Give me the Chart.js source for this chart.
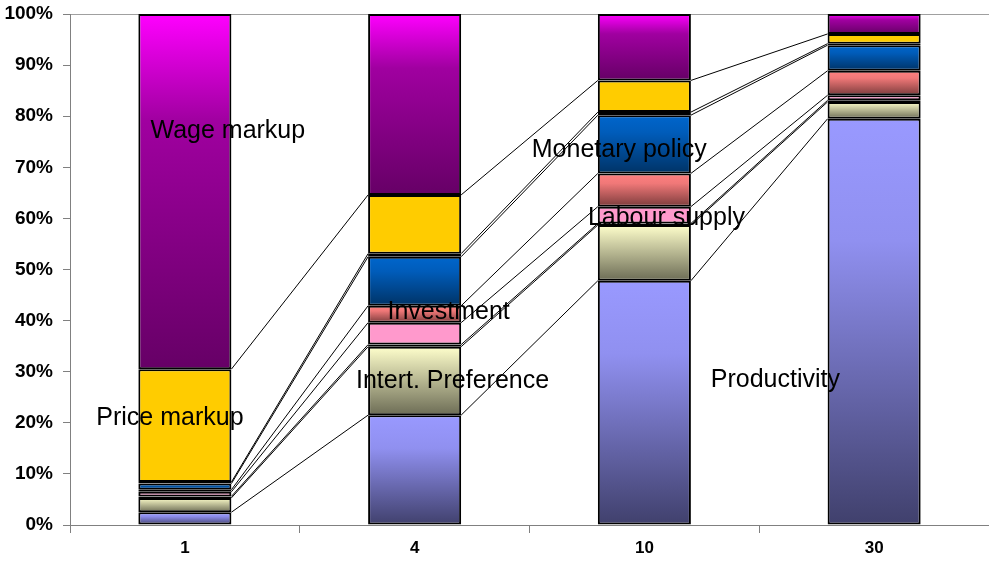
<!DOCTYPE html>
<html>
<head>
<meta charset="utf-8">
<title>Shock decomposition by horizon</title>
<script src="https://cdn.jsdelivr.net/npm/chart.js@4.4.1/dist/chart.umd.min.js"></script>
<style>
  html, body { margin: 0; padding: 0; background: #ffffff; }
  #wrap { width: 989px; height: 565px; position: relative; }
</style>
</head>
<body>
<div id="wrap"><canvas id="chart"></canvas></div>
<script>
// Forecast horizons (quarters)
const horizons = ['1', '4', '10', '30'];

// Share of forecast-error variance (%) per shock, stacked bottom to top
const productivity   = [2.5, 21.5, 47.8, 79.5];
const intertPref     = [2.8, 13.4, 10.9, 3.3];
const otherA         = [0.3, 0.4, 0.3, 0.3];
const labourSupply   = [0.9, 4.3, 3.3, 1.0];
const investment     = [0.4, 3.3, 6.5, 4.8];
const monetaryPolicy = [1.2, 9.6, 11.4, 5.0];
const otherB         = [0.3, 0.6, 0.6, 0.3];
const priceMarkup    = [22.1, 11.5, 6.2, 1.9];
const wageMarkup     = [69.5, 35.4, 13.0, 3.9];

// y-axis ticks
const yTicks = [0, 10, 20, 30, 40, 50, 60, 70, 80, 90, 100];

// In-plot labels: text, category position (fractional index), value
const labelTexts = ['Wage markup', 'Price markup', 'Intert. Preference', 'Investment',
                    'Monetary policy', 'Labour supply', 'Productivity'];
const labelCat   = [0.187, -0.065, 1.165, 1.148, 1.891, 2.096, 2.570];
const labelVal   = [77.1, 20.9, 28.2, 41.7, 73.4, 60.1, 28.4];

const seriesList = [
  { name: 'Productivity',       values: productivity,   stops: [[0, '#9999FF'], [0.3, '#9090F0'], [1, '#40406C']] },
  { name: 'Intert. Preference', values: intertPref,     stops: [[0, '#FFFFCC'], [1, '#6C6C55']] },
  { name: 'Other 1',            values: otherA,         stops: [[0, '#A0A0A0'], [1, '#A0A0A0']] },
  { name: 'Labour supply',      values: labourSupply,   stops: [[0, '#FF99CC'], [1, '#FF99CC']] },
  { name: 'Investment',         values: investment,     stops: [[0, '#FF8080'], [0.3, '#F07878'], [1, '#7C3C3C']] },
  { name: 'Monetary policy',    values: monetaryPolicy, stops: [[0, '#0066CC'], [0.3, '#005CBA'], [1, '#003366']] },
  { name: 'Other 2',            values: otherB,         stops: [[0, '#909090'], [1, '#909090']] },
  { name: 'Price markup',       values: priceMarkup,    stops: [[0, '#FFCC00'], [1, '#FFCC00']] },
  { name: 'Wage markup',        values: wageMarkup,     stops: [[0, '#FF00FF'], [0.3, '#A000A0'], [1, '#660066']] }
];

Chart.defaults.font.family = "'Liberation Sans', Arial, sans-serif";
Chart.defaults.color = '#000000';

// Vertical gradient spanning exactly one stacked segment
function segmentFill(ctx, stops) {
  const chart = ctx.chart;
  if (!chart.chartArea || ctx.dataIndex === undefined || !chart.scales.y) return stops[0][1];
  const ds = ctx.datasetIndex, i = ctx.dataIndex;
  let base = 0;
  for (let k = 0; k < ds; k++) base += seriesList[k].values[i];
  const top = base + seriesList[ds].values[i];
  const ys = chart.scales.y;
  const y0 = ys.getPixelForValue(top);
  let y1 = ys.getPixelForValue(base);
  if (Math.abs(y1 - y0) < 1) y1 = y0 + 1;
  const g = chart.ctx.createLinearGradient(0, y0, 0, y1);
  stops.forEach(s => g.addColorStop(s[0], s[1]));
  return g;
}

// Thin connector lines joining the top of each segment across neighbouring bars
const seriesLines = {
  id: 'seriesLines',
  afterDatasetsDraw(chart) {
    const c = chart.ctx;
    c.save();
    c.strokeStyle = '#000000';
    c.lineWidth = 1;
    chart.data.datasets.forEach((d, di) => {
      if (di === chart.data.datasets.length - 1) return;
      const els = chart.getDatasetMeta(di).data;
      for (let i = 0; i < els.length - 1; i++) {
        const a = els[i], b = els[i + 1];
        c.beginPath();
        c.moveTo(a.x + a.width / 2, a.y);
        c.lineTo(b.x - b.width / 2, b.y);
        c.stroke();
      }
    });
    c.restore();
  }
};

// Series names written inside the plot
const plotLabels = {
  id: 'plotLabels',
  afterDraw(chart) {
    const c = chart.ctx;
    const xs = chart.scales.x, ys = chart.scales.y;
    c.save();
    c.font = "25px 'Liberation Sans', Arial, sans-serif";
    c.fillStyle = '#000000';
    c.textAlign = 'center';
    c.textBaseline = 'middle';
    labelTexts.forEach((t, k) => {
      c.fillText(t, xs.getPixelForValue(labelCat[k]), ys.getPixelForValue(labelVal[k]));
    });
    c.restore();
  }
};

new Chart(document.getElementById('chart'), {
  type: 'bar',
  data: {
    labels: horizons,
    datasets: seriesList.map(s => ({
      label: s.name,
      data: s.values,
      backgroundColor: (ctx) => segmentFill(ctx, s.stops),
      borderColor: '#000000',
      borderWidth: 2,
      borderSkipped: false,
      categoryPercentage: 1.0,
      barPercentage: 0.405
    }))
  },
  options: {
    responsive: true,
    maintainAspectRatio: false,
    animation: false,
    layout: { padding: { top: 14, right: 0, left: 0, bottom: 0 } },
    plugins: { legend: { display: false }, tooltip: { enabled: false } },
    scales: {
      x: {
        stacked: true,
        offset: true,
        grid: { offset: true, drawOnChartArea: false, color: '#808080', tickLength: 8 },
        border: { color: '#808080', width: 1 },
        ticks: { font: { size: 17, weight: 'bold' }, padding: 5, color: '#000000' },
        afterFit(scale) { scale.height = 40; scale.paddingLeft = 0; scale.paddingRight = 0; }
      },
      y: {
        stacked: true,
        min: 0,
        max: 100,
        afterBuildTicks(scale) { scale.ticks = yTicks.map(v => ({ value: v })); },
        grid: {
          drawOnChartArea: true,
          color: (ctx) => (ctx.tick && ctx.tick.value === 100 ? '#A0A0A0' : 'rgba(0,0,0,0)'),
          tickColor: '#808080',
          tickLength: 7
        },
        border: { color: '#808080', width: 1 },
        ticks: {
          font: { size: 19, weight: 'bold' },
          padding: 10,
          color: '#000000',
          callback: (v) => v + '%'
        },
        afterFit(scale) { scale.width = 70; scale.paddingTop = 0; scale.paddingBottom = 0; }
      }
    }
  },
  plugins: [seriesLines, plotLabels]
});
</script>
</body>
</html>
